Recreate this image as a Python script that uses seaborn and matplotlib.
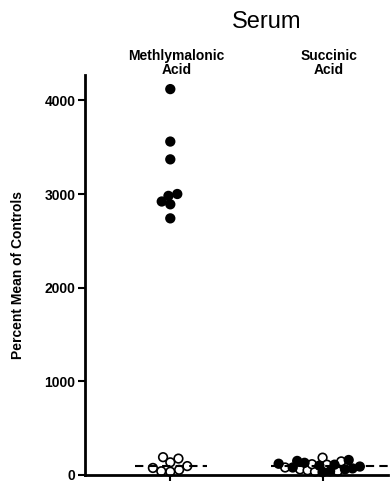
import numpy as np
import pandas as pd
import matplotlib
matplotlib.use("Agg")
import matplotlib.pyplot as plt
import seaborn as sns

#------------------------------------------------------------------------------
# data (percent of control mean)
acids = ["Methlymalonic\nAcid", "Succinic\nAcid"]
mma_patients = [4120, 3560, 3370, 3000, 2980, 2920, 2890, 2740]
mma_controls = [35, 40, 175, 190, 95, 135, 55, 75]
succ_patients = [40, 70, 150, 110, 60, 130, 90, 30, 120, 80, 160, 100]
succ_controls = [60, 40, 185, 145, 50, 35, 110, 115, 80]
control_mean = 100
yticks = [0, 1000, 2000, 3000, 4000]

#------------------------------------------------------------------------------
rows = []
for acid, vals in [(acids[0], mma_controls), (acids[1], succ_controls)]:
    rows += [(acid, "Controls", v) for v in vals]
for acid, vals in [(acids[0], mma_patients), (acids[1], succ_patients)]:
    rows += [(acid, "Patients", v) for v in vals]
df = pd.DataFrame(rows, columns=["acid", "group", "value"])

sns.set_theme(style="ticks", rc={"text.color": "black", "axes.labelcolor": "black",
                                 "xtick.color": "black", "ytick.color": "black",
                                 "axes.edgecolor": "black"})
plt.rcParams["font.family"] = ["Liberation Sans", "DejaVu Sans"]
plt.rcParams["font.weight"] = "bold"

fig = plt.figure(figsize=(3.9, 4.83), dpi=100)
ax = fig.add_axes([0.218, 0.0166, 0.777, 0.828])

ax.set_xlim(-0.56, 1.43)
ax.set_ylim(0, 4270)

pal = {"Controls": "white", "Patients": "black"}
# swarm layout done with small dots, then drawn bigger so they overlap
# like in the original figure
layout_size = {acids[0]: 5.0, acids[1]: 4.0}
for acid in acids:
    sns.swarmplot(data=df[df.acid == acid], x="acid", y="value", hue="group",
                  order=acids, hue_order=["Controls", "Patients"], palette=pal,
                  edgecolor="black", linewidth=1.2, size=layout_size[acid],
                  legend=False, ax=ax)
ax.set_xlim(-0.56, 1.43)
ax.set_ylim(0, 4270)
fig.canvas.draw()
for c in list(ax.collections):
    offs = np.asarray(c.get_offsets())
    fc = np.asarray(c.get_facecolors())
    c.remove()
    if len(offs) == 0:
        continue
    if len(fc) != len(offs):
        fc = np.repeat(fc[:1], len(offs), axis=0)
    ok = np.isfinite(offs).all(axis=1)
    ax.scatter(offs[ok, 0], offs[ok, 1], s=6.2 ** 2, c=fc[ok], edgecolors="black",
               linewidths=1.2, clip_on=False, zorder=2)

# dashed line = mean of controls (100 %)
spans = [(-0.23, 0.24), (-0.34, 0.45)]
for i, (a, b) in enumerate(spans):
    ax.plot([i + a, i + b], [control_mean, control_mean], color="black",
            lw=1.5, ls=(0, (4, 2.5)), zorder=3)

ax.set_xlim(-0.56, 1.43)
ax.set_ylim(0, 4270)
ax.set_yticks(yticks)
ax.set_yticklabels([str(t) for t in yticks], fontsize=10, fontweight="bold")
ax.set_xticks([0, 1])
ax.set_xticklabels(["", ""])
ax.set_xlabel("")
ax.set_ylabel("Percent Mean of Controls", fontsize=10, fontweight="bold",
              labelpad=14)
ax.tick_params(axis="y", length=5, width=1.5, pad=2)
ax.tick_params(axis="x", length=4, width=1.5)
sns.despine(ax=ax)
for s in ["left", "bottom"]:
    ax.spines[s].set_linewidth(2)

# category names above the data
for i, name in enumerate(acids):
    ax.text(i + 0.04, 0.995, name, transform=ax.get_xaxis_transform(),
            ha="center", va="bottom", fontsize=10, fontweight="bold",
            linespacing=1.05)

fig.text(267 / 390, 1 - 22 / 483, "Serum", ha="center", va="center",
         fontsize=17, fontweight="normal")

plt.savefig("out.png", dpi=100)
